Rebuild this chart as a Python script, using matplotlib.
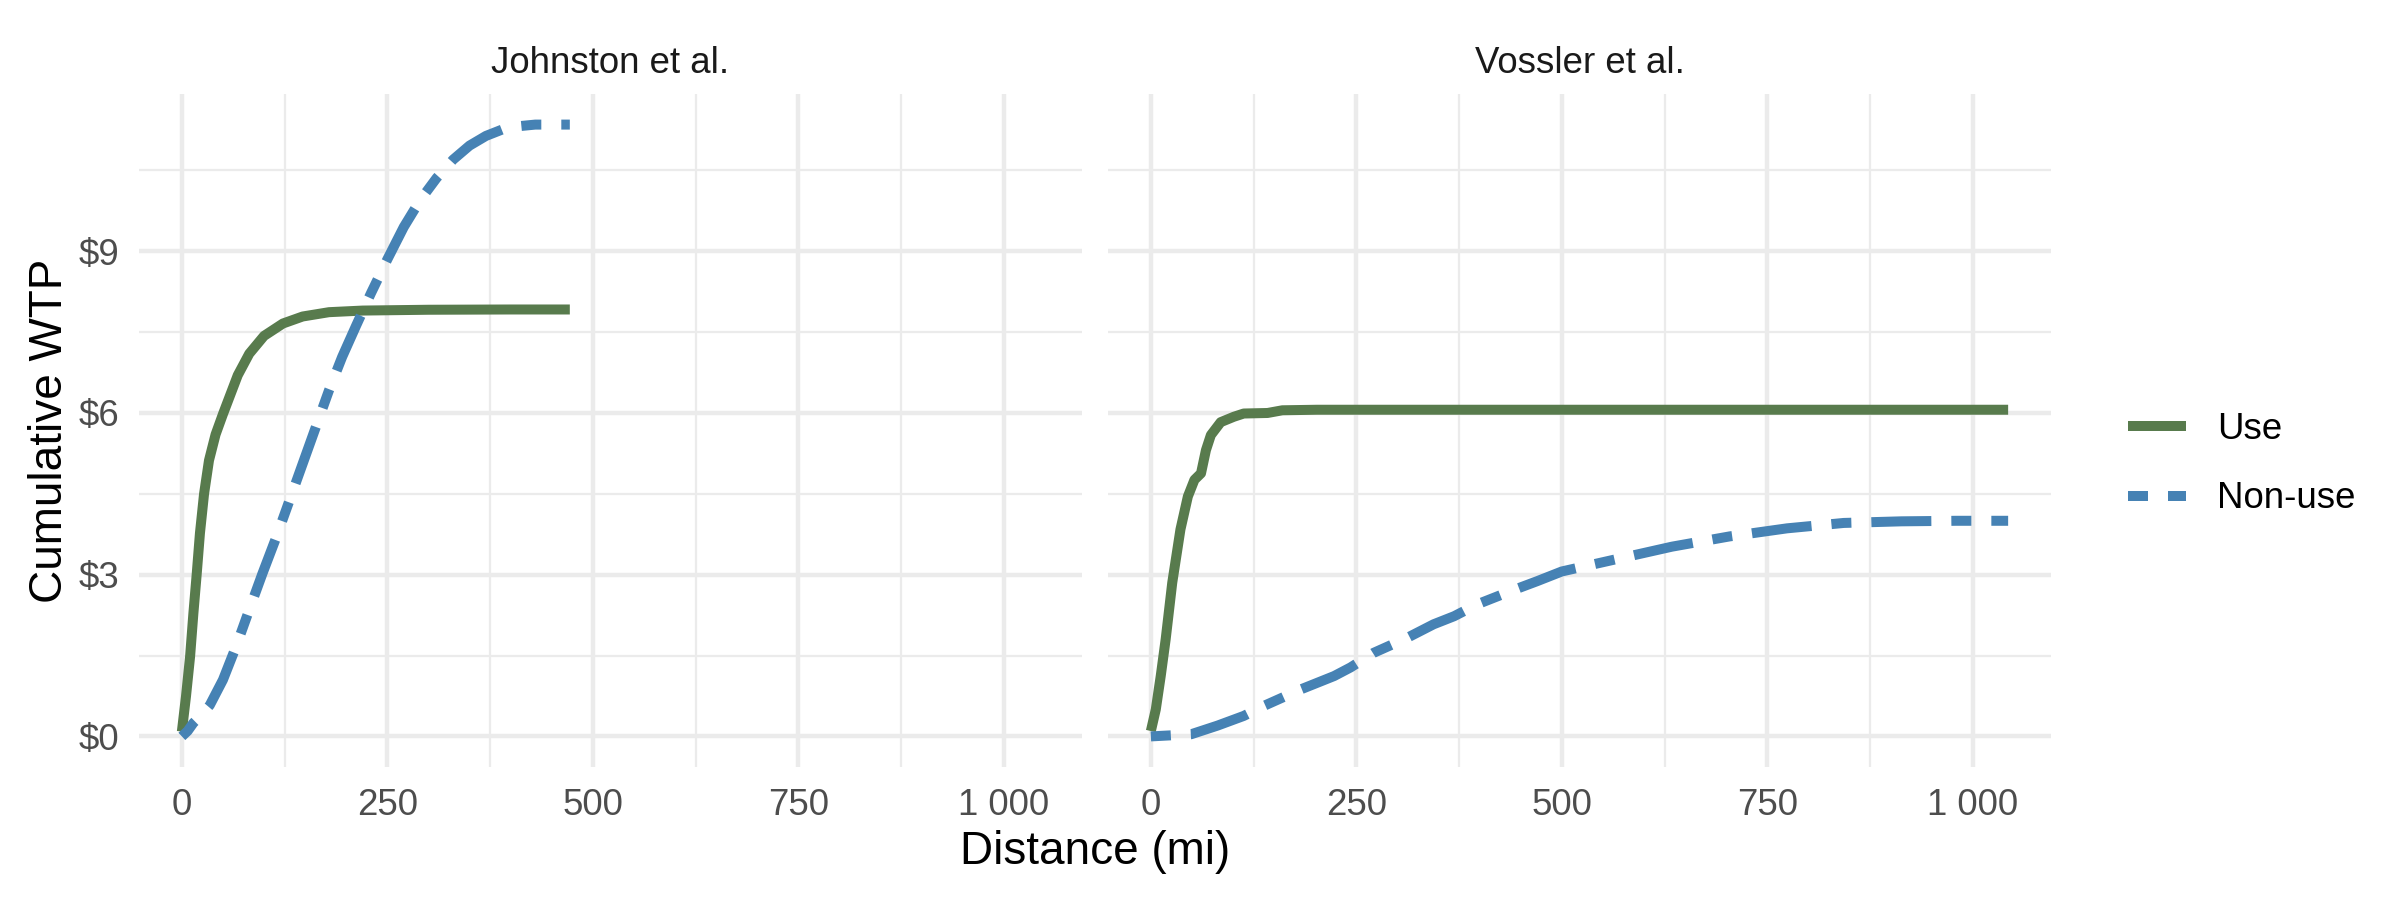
import matplotlib
matplotlib.use("Agg")
import matplotlib.pyplot as plt
from matplotlib.ticker import FixedLocator, FuncFormatter

plt.rcParams['font.family'] = ['Liberation Sans', 'DejaVu Sans']

# ---------------- data ----------------
panels = ["Johnston et al.", "Vossler et al."]
series_labels = ["Use", "Non-use"]

johnston_use_x = [0, 5, 10, 14, 18, 22, 27, 33, 41, 50, 58, 68, 82, 100, 123, 147, 179, 220, 300, 400, 472]
johnston_use_y = [0.09, 0.74, 1.48, 2.28, 3.0, 3.77, 4.5, 5.12, 5.6, 5.98, 6.3, 6.7, 7.1, 7.43, 7.66, 7.79, 7.87, 7.9, 7.915, 7.92, 7.92]

johnston_non_x = [0, 7, 14, 24, 34, 50, 66, 82, 98, 115, 131, 147, 163, 179, 195, 212, 230, 250, 270, 290, 310, 330, 350, 370, 390, 410, 430, 472]
johnston_non_y = [0.0, 0.1, 0.25, 0.4, 0.58, 1.05, 1.67, 2.35, 3.02, 3.7, 4.38, 5.06, 5.74, 6.42, 7.04, 7.62, 8.22, 8.85, 9.45, 9.95, 10.36, 10.7, 10.96, 11.14, 11.26, 11.32, 11.35, 11.35]

vossler_use_x = [0, 6, 12, 18, 26, 36, 45, 53, 61, 67, 73, 85, 101, 113, 142, 160, 202, 400, 600, 800, 1043]
vossler_use_y = [0.1, 0.5, 1.12, 1.8, 2.85, 3.84, 4.45, 4.76, 4.88, 5.31, 5.59, 5.83, 5.93, 5.99, 6.0, 6.05, 6.06, 6.06, 6.06, 6.06, 6.06]

vossler_non_x = [0, 49, 81, 113, 138, 182, 223, 243, 271, 312, 344, 369, 397, 442, 470, 500, 564, 634, 704, 774, 843, 913, 980, 1043]
vossler_non_y = [0.0, 0.04, 0.2, 0.38, 0.57, 0.87, 1.12, 1.28, 1.55, 1.83, 2.08, 2.23, 2.45, 2.72, 2.88, 3.06, 3.28, 3.52, 3.71, 3.86, 3.96, 3.99, 4.0, 4.0]

x_ticks = [0, 250, 500, 750, 1000]
x_minor = [125, 375, 625, 875]
y_ticks = [0, 3, 6, 9]
y_minor = [1.5, 4.5, 7.5, 10.5]

# ---------------- style ----------------
GREEN = "#587B4D"
BLUE = "#4682B4"
LW = 2.4
GRID = "#EBEBEB"

fig = plt.figure(figsize=(8, 3), dpi=300)

W, H = 2400.0, 900.0
bottom = 1 - 767 / H
height = (767 - 94) / H
axes_rects = [
    [139 / W, bottom, (1082 - 139) / W, height],
    [1108 / W, bottom, (2051 - 1108) / W, height],
]

data = [
    ((johnston_use_x, johnston_use_y), (johnston_non_x, johnston_non_y)),
    ((vossler_use_x, vossler_use_y), (vossler_non_x, vossler_non_y)),
]

def money(v, pos):
    return f"${int(round(v))}"

def dist(v, pos):
    v = int(round(v))
    if v >= 1000:
        return f"{v // 1000} {v % 1000:03d}"
    return str(v)

handles = []
for i, rect in enumerate(axes_rects):
    ax = fig.add_axes(rect)
    (ux, uy), (nx, ny) = data[i]
    l1, = ax.plot(ux, uy, color=GREEN, lw=LW, solid_capstyle='butt',
                  solid_joinstyle='round', label=series_labels[0], zorder=3)
    l2, = ax.plot(nx, ny, color=BLUE, lw=LW, dash_capstyle='butt',
                  dash_joinstyle='round', label=series_labels[1], zorder=3)
    l2.set_dashes([2, 2, 6, 2])
    if i == 0:
        handles = [l1, l2]

    ax.set_xlim(-52.15, 1095.15)
    ax.set_ylim(-0.5675, 11.9175)
    ax.xaxis.set_major_locator(FixedLocator(x_ticks))
    ax.xaxis.set_minor_locator(FixedLocator(x_minor))
    ax.yaxis.set_major_locator(FixedLocator(y_ticks))
    ax.yaxis.set_minor_locator(FixedLocator(y_minor))
    ax.xaxis.set_major_formatter(FuncFormatter(dist))
    ax.yaxis.set_major_formatter(FuncFormatter(money))
    ax.grid(which='major', color=GRID, lw=1.07, zorder=0)
    ax.grid(which='minor', color=GRID, lw=0.53, zorder=0)
    ax.set_axisbelow(True)
    for s in ax.spines.values():
        s.set_visible(False)
    ax.tick_params(which='both', length=0)
    ax.tick_params(axis='x', which='major', labelsize=8.8, labelcolor="#4D4D4D", pad=5.0)
    ax.tick_params(axis='y', which='major', labelsize=8.8, labelcolor="#4D4D4D", pad=4.8)
    if i == 1:
        ax.tick_params(axis='y', labelleft=False)
    cx = rect[0] + rect[2] / 2
    fig.text(cx, 1 - 73 / H, panels[i], ha='center', va='baseline',
             fontsize=8.8, color="#1A1A1A")

fig.text((139 + 2051) / 2 / W, 1 - 864 / H, "Distance (mi)", ha='center',
         va='baseline', fontsize=11, color='black')
fig.text(50 / W, 1 - 430.5 / H, "Cumulative WTP", ha='center', va='center',
         rotation=90, fontsize=11, color='black')

fig.legend(handles=handles, labels=series_labels, loc='center left',
           bbox_to_anchor=(2128 / W, 1 - 464 / H), frameon=False,
           fontsize=8.8, handlelength=1.58, handletextpad=0.84,
           labelspacing=0.95, borderpad=0, borderaxespad=0)

fig.savefig("out.png", dpi=300, facecolor='white')
